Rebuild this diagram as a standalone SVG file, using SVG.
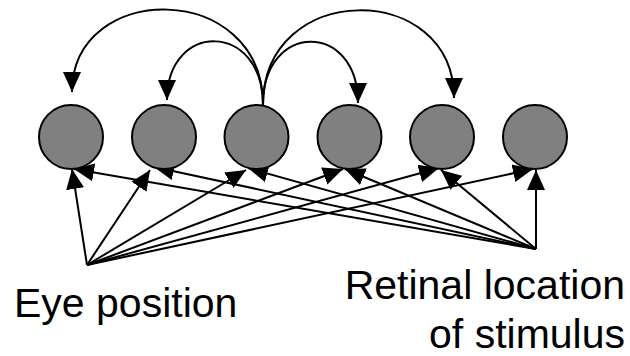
<svg xmlns="http://www.w3.org/2000/svg" width="630" height="356" viewBox="0 0 630 356">
<style>
.node{fill:#808080;stroke:#000;stroke-width:2}
.edge{fill:none;stroke:#000;stroke-width:2}
.lbl{font-family:"Liberation Sans",Arial,sans-serif;font-size:41px;fill:#000}
</style>
<defs>
<marker id="ah" markerUnits="userSpaceOnUse" markerWidth="22" markerHeight="20" viewBox="0 0 22 20" refX="20" refY="10" orient="auto">
<path d="M0,1 L20,10 L0,19 Z" fill="#000"/>
</marker>
</defs>
<rect width="630" height="356" fill="#fff"/>
<g id="connectors">
<path class="edge" marker-end="url(#ah)" d="M263,105 C263,-20 72,-20 72,92"/>
<path class="edge" marker-end="url(#ah)" d="M263,105 C263,21 167,21 167,100"/>
<path class="edge" marker-end="url(#ah)" d="M263,105 C263,21 358,21 358,103"/>
<path class="edge" marker-end="url(#ah)" d="M263,105 C263,-20 454,-20 454,98"/>
<g id="eye-edges">
<line class="edge" marker-end="url(#ah)" x1="87" y1="265" x2="72" y2="169"/>
<line class="edge" marker-end="url(#ah)" x1="87" y1="265" x2="150" y2="170"/>
<line class="edge" marker-end="url(#ah)" x1="87" y1="265" x2="246" y2="170"/>
<line class="edge" marker-end="url(#ah)" x1="87" y1="265" x2="343" y2="169"/>
<line class="edge" marker-end="url(#ah)" x1="87" y1="265" x2="439" y2="168"/>
<line class="edge" marker-end="url(#ah)" x1="87" y1="265" x2="533" y2="169"/>
</g>
<g id="retinal-edges">
<line class="edge" marker-end="url(#ah)" x1="536" y1="249" x2="74" y2="169"/>
<line class="edge" marker-end="url(#ah)" x1="536" y1="249" x2="154" y2="167"/>
<line class="edge" marker-end="url(#ah)" x1="536" y1="249" x2="248" y2="168"/>
<line class="edge" marker-end="url(#ah)" x1="536" y1="249" x2="345" y2="169"/>
<line class="edge" marker-end="url(#ah)" x1="536" y1="249" x2="441" y2="170"/>
<line class="edge" marker-end="url(#ah)" x1="536" y1="249" x2="536" y2="170"/>
</g>
</g>
<g id="n1"><circle class="node" cx="71" cy="137" r="32"/></g>
<g id="n2"><circle class="node" cx="164" cy="137" r="32"/></g>
<g id="n3"><circle class="node" cx="256.5" cy="137" r="32"/></g>
<g id="n4"><circle class="node" cx="349.5" cy="137" r="32"/></g>
<g id="n5"><circle class="node" cx="442" cy="137" r="32"/></g>
<g id="n6"><circle class="node" cx="535" cy="137" r="32"/></g>
<g id="eye-position"><text class="lbl" x="14" y="317">Eye position</text></g>
<g id="retinal-location"><text class="lbl" text-anchor="end" x="625" y="299">Retinal location</text><text class="lbl" text-anchor="end" x="625" y="348">of stimulus</text></g>
</svg>
